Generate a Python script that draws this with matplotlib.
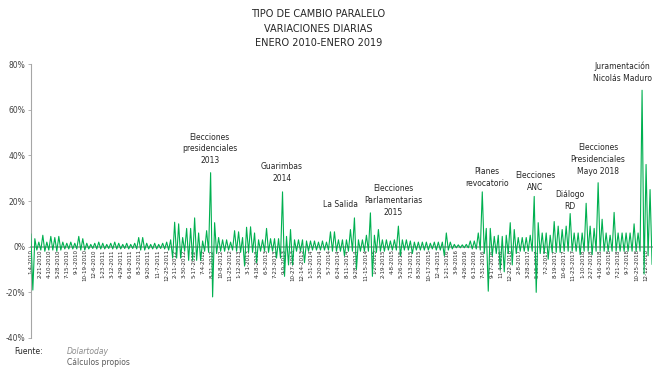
import pandas as pd
import numpy as np
import matplotlib
matplotlib.use("Agg")
import matplotlib.pyplot as plt
from matplotlib.ticker import FuncFormatter

# variaciones diarias (maximo y minimo por tramo), en %
maximos = [5.5, 3.5, 2, 5, 2, 4.5, 4, 4.5, 2, 1.5,
           2, 1.5, 4.5, 3.5, 1.5, 1, 1.5, 2, 1.5, 1,
           1.5, 2, 1.5, 1, 1.5, 1, 1.5, 4, 4, 1.5,
           1, 1.5, 1, 1.5, 2, 3, 10.7, 10, 4, 8,
           8, 12.6, 6, 2.5, 7, 32.4, 10.5, 4, 3, 3,
           2, 7, 6.5, 4, 8.5, 8.7, 6, 3, 3, 8,
           3.5, 3.5, 3.5, 24, 4.5, 7.5, 3, 3, 3, 2.5,
           2.5, 2.5, 2, 2.5, 2, 6.5, 6.5, 3, 3, 3,
           7.5, 12.6, 3, 3, 5, 14.8, 5, 7.5, 3, 3,
           2.5, 3, 9, 3, 3, 2.5, 2, 2, 2, 2,
           1.5, 2, 2, 2, 6, 2, 1, 0.8, 0.8, 1,
           2.5, 2.5, 6, 24, 8, 8, 4.5, 5, 4.5, 5,
           10.5, 7.5, 4, 4, 4, 5, 22, 10.5, 6, 6,
           5, 11, 9, 7.5, 9, 14.5, 6, 6, 6, 19,
           9, 8, 28, 12, 6, 5, 15, 6, 6, 6,
           6, 10, 6, 68.5, 36, 25]
minimos = [-19, -1.5, -1.5, -2, -1.5, -1.5, -2, -1.5, -1, -1,
           -1, -1, -1.5, -1.5, -1, -0.8, -1, -1, -1, -0.8,
           -1, -1, -1, -0.8, -1, -0.8, -1, -1.5, -1.5, -1,
           -1, -1, -0.8, -1, -1.5, -5, -5, -5, -2, -6,
           -6, -6, -6, -2, -2.5, -22, -3, -2, -2, -1.5,
           -1.5, -2, -2.5, -8.5, -2.5, -2.5, -7, -2, -2, -2.5,
           -2, -5, -5, -13, -8, -8, -2, -2, -7, -2,
           -1.5, -1.5, -1.5, -1.5, -1.5, -2, -2, -2, -4, -2,
           -2, -10, -2, -2, -2, -13, -2.5, -2, -2, -1.5,
           -1.5, -1.5, -4, -1.5, -1.5, -3, -1.5, -1.5, -1.5, -1.5,
           -1, -1.5, -1.5, -4, -1.5, -1, -0.5, -0.5, -0.5, -0.5,
           -1, -1, -1.5, -3, -19.5, -4, -3, -10, -11, -3,
           -8, -3, -2, -2, -2, -2, -20, -3, -3, -5.5,
           -2.5, -2.5, -2.5, -2, -2, -2, -2, -3.5, -2, -2,
           -3.5, -2, -2, -2, -2, -2, -2, -2, -2, -2,
           -2, -2, -2, -12, -4, -7.7]

titulo = "TIPO DE CAMBIO PARALELO\nVARIACIONES DIARIAS\nENERO 2010-ENERO 2019"
eventos = ["Elecciones\npresidenciales\n2013", "Guarimbas\n2014", "La Salida",
           "Elecciones\nParlamentarias\n2015", "Planes\nrevocatorio",
           "Elecciones\nANC", "Diálogo\nRD",
           "Elecciones\nPresidenciales\nMayo 2018",
           "Juramentación\nNicolás Maduro"]
# posicion de cada rotulo (fraccion del eje x, valor del eje y)
pos_x_eventos = [0.288, 0.404, 0.498, 0.583, 0.734, 0.812, 0.868, 0.913, 0.952]
pos_y_eventos = [0.50, 0.371, 0.204, 0.274, 0.349, 0.332, 0.248, 0.454, 0.809]

valores = np.ravel(np.column_stack([maximos, minimos])) / 100
fechas = pd.date_range("2010-01-04", "2019-01-15", periods=len(valores))
ticks = pd.date_range("2010-01-04", "2019-01-15", freq="48D")
etiquetas = [f"{d.month}-{d.day}-{d.year}" for d in ticks]

verde = "#00B050"
gris = "#A6A6A6"
caja = [0.047, 0.0865, 0.947, 0.7405]
ymin, ymax = -0.4, 0.8

fig = plt.figure(figsize=(6.56, 3.70), dpi=100)
ax = fig.add_axes(caja)
for s in ["top", "right"]:
    ax.spines[s].set_visible(False)
ax.spines["bottom"].set_position(("data", 0))
ax.spines["bottom"].set_color(gris)
ax.spines["bottom"].set_linewidth(1.3)
ax.spines["left"].set_color(gris)
ax.spines["left"].set_linewidth(0.8)

ax.plot(fechas, valores, color=verde, lw=0.8, zorder=3)
ax.set_xlim(fechas[0], fechas[-1])
ax.set_ylim(ymin, ymax)
ax.set_yticks(np.arange(-0.4, 0.81, 0.2))
ax.yaxis.set_major_formatter(FuncFormatter(lambda v, p: f"{v*100:.0f}%"))
ax.tick_params(axis="y", labelsize=5.5, colors="#404040", length=2, width=0.6,
               color=gris, pad=2)
ax.set_xticks(ticks)
ax.set_xticklabels(etiquetas, rotation=90, fontsize=4, color="#262626",
                   va="top", ha="center")
ax.tick_params(axis="x", length=0, pad=2)

# rotulos de eventos en coordenadas de figura
for txt, px, py in zip(eventos, pos_x_eventos, pos_y_eventos):
    fx = caja[0] + px * caja[2]
    fy = caja[1] + (py - ymin) / (ymax - ymin) * caja[3]
    fig.text(fx, fy, txt, ha="center", va="top", fontsize=5.5,
             color="#262626", linespacing=1.4)

fig.text(0.485, 0.975, titulo, ha="center", va="top", fontsize=7,
         color="#262626", linespacing=1.55)
fig.text(0.021, 0.05, "Fuente:", fontsize=5.5, color="#262626", va="center")
fig.text(0.102, 0.05, "Dolartoday", fontsize=5.5, color="#8c8c8c",
         style="italic", va="center")
fig.text(0.102, 0.02, "Cálculos propios", fontsize=5.5, color="#595959",
         va="center")

fig.savefig("out.png", dpi=100)
